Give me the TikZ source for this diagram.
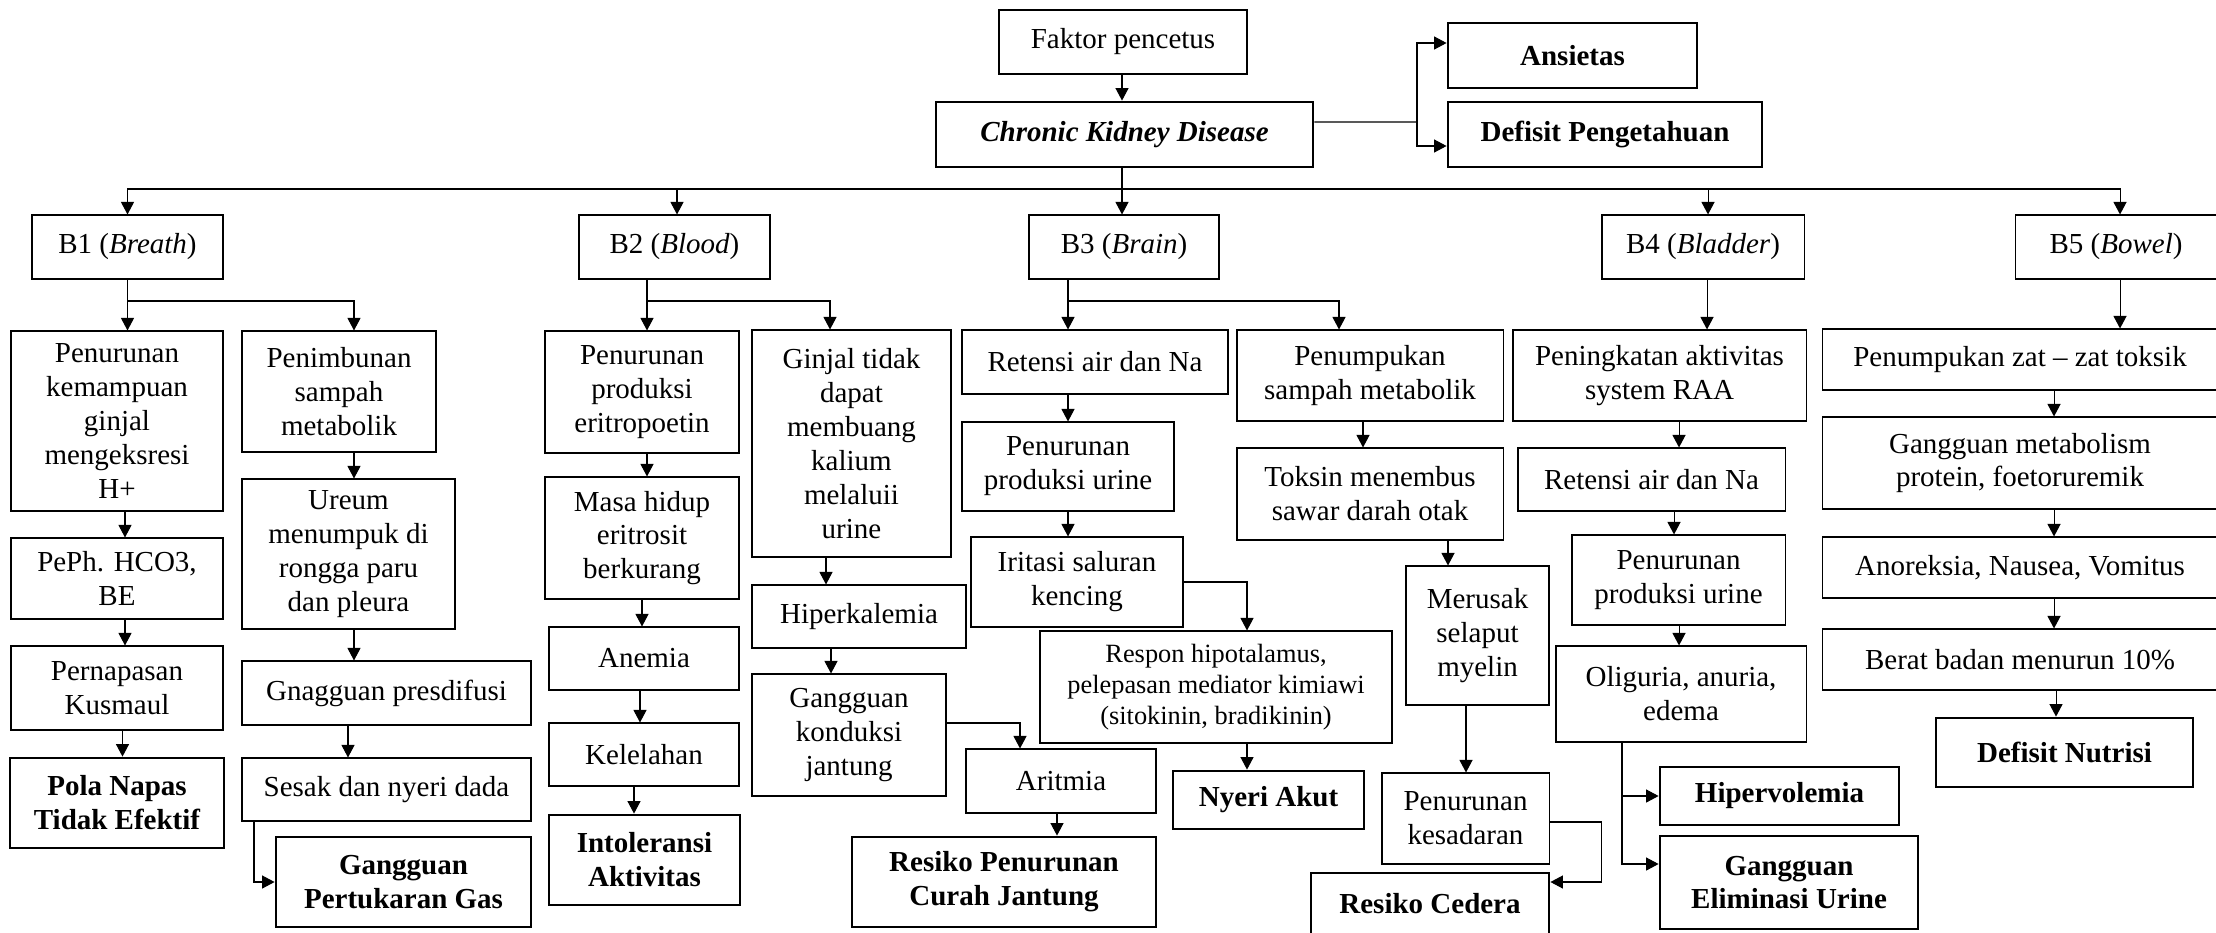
\documentclass[tikz,border=0pt]{standalone}
\usepackage{fontspec}
\setmainfont{Liberation Serif}
\usetikzlibrary{arrows.meta}
\newcommand{\nf}{\fontsize{16.5}{19.3}\selectfont}
\newcommand{\smf}{\fontsize{15}{17.6}\selectfont}
\tikzset{box/.style={draw,line width=0.6pt,align=center,inner sep=2pt,font=\nf},dx/.style={box,line width=1.6pt,font=\nf\bfseries},wh/.style 2 args={minimum width=#1mm,minimum height=#2mm},arr/.style={-{Triangle[length=2.5mm,width=2.6mm]},line width=0.6pt},ln/.style={line width=0.6pt}}

\begin{document}
\begin{tikzpicture}[x=0.2mm,y=-0.2mm]
\useasboundingbox (0,0) rectangle (2216,932);
\clip (0,0) rectangle (2216,932);
% top
\node[box,wh={49.6}{12.8}] (faktor) at (1123,42) {Faktor pencetus};
\node[dx,wh={75.4}{13}] (ckd) at (1124.5,134.5) {\itshape Chronic Kidney Disease};
\node[dx,wh={49.8}{13}] (ansietas) at (1572.5,55.5) {Ansietas};
\node[dx,wh={62.8}{13}] (defisitp) at (1605,134.5) {Defisit Pengetahuan};
% B1 .. B5
\node[box,wh={38.2}{12.8}] (bone) at (127.5,247) {B1 (\textit{Breath})};
\node[box,wh={38.2}{12.8}] (btwo) at (674.5,247) {B2 (\textit{Blood})};
\node[box,wh={38}{12.8}] (bthree) at (1124,247) {B3 (\textit{Brain})};
\node[box,wh={40.4}{12.8}] (bfour) at (1703,247) {B4 (\textit{Bladder})};
\node[box,wh={40.4}{12.8}] (bfive) at (2116,247) {B5 (\textit{Bowel})};
% breath
\node[box,wh={42.4}{36}] (bonea) at (117,421) {Penurunan\\kemampuan\\ginjal\\mengeksresi\\H+};
\node[box,wh={42.4}{16.2}] (boneb) at (117,578.5) {PePh. HCO3,\\BE};
\node[box,wh={42.4}{16.8}] (bonec) at (117,688) {Pernapasan\\Kusmaul};
\node[dx,wh={42.8}{18}] (boned) at (117,803) {Pola Napas\\Tidak Efektif};
\node[box,wh={38.8}{24.2}] (bonee) at (339,391.5) {Penimbunan\\sampah\\metabolik};
\node[box,wh={42.6}{30}] (bonef) at (348.5,554) {Ureum\\menumpuk di\\rongga paru\\dan pleura};
\node[box,wh={57.8}{12.8}] (boneg) at (386.5,693) {Gnagguan presdifusi};
\node[box,wh={57.8}{12.6}] (boneh) at (386.5,789.5) {Sesak dan nyeri dada};
\node[dx,wh={51}{18}] (bonei) at (403.5,882) {Gangguan\\Pertukaran Gas};
% blood
\node[box,wh={38.8}{24.4}] (btwoa) at (642,392) {Penurunan\\produksi\\eritropoetin};
\node[box,wh={38.8}{24.4}] (btwob) at (642,538) {Masa hidup\\eritrosit\\berkurang};
\node[box,wh={38}{12.6}] (btwoc) at (644,658.5) {Anemia};
\node[box,wh={38}{12.6}] (btwod) at (644,754.5) {Kelelahan};
\node[dx,wh={38.2}{18}] (btwoe) at (644.5,860) {Intoleransi\\Aktivitas};
\node[box,wh={39.8}{45.4}] (btwof) at (851.5,443.5) {Ginjal tidak\\dapat\\membuang\\kalium\\melaluii\\urine};
\node[box,wh={42.8}{12.6}] (btwog) at (859,616.5) {Hiperkalemia};
\node[box,wh={38.8}{24.4}] (btwoh) at (849,735) {Gangguan\\konduksi\\jantung};
% brain
\node[box,wh={53.2}{12.8}] (bthreea) at (1095,362) {Retensi air dan Na};
\node[box,wh={42.4}{17.8}] (bthreeb) at (1068,466.5) {Penurunan\\produksi urine};
\node[box,wh={42.4}{18}] (bthreec) at (1077,582) {Iritasi saluran\\kencing};
\node[box,wh={70.4}{22.4},font=\smf] (bthreed) at (1216,687) {Respon hipotalamus,\\pelepasan mediator kimiawi\\(sitokinin, bradikinin)};
\node[dx,wh={38.2}{11.6}] (bthreee) at (1268.5,800) {Nyeri Akut};
\node[box,wh={38}{12.8}] (bthreef) at (1061,781) {Aritmia};
\node[dx,wh={60.8}{18}] (bthreeg) at (1004,882) {Resiko Penurunan\\Curah Jantung};
\node[box,wh={53.2}{18.2}] (bthreeh) at (1370,375.5) {Penumpukan\\sampah metabolik};
\node[box,wh={53.2}{18.4}] (bthreei) at (1370,494) {Toksin menembus\\sawar darah otak};
\node[box,wh={28.6}{27.8}] (bthreej) at (1477.5,635.5) {Merusak\\selaput\\myelin};
\node[box,wh={33.4}{18.2}] (bthreek) at (1465.5,818.5) {Penurunan\\kesadaran};
\node[dx,wh={47.6}{12.4}] (bthreel) at (1430,904) {Resiko Cedera};
% bladder
\node[box,wh={58.6}{18.2}] (bfoura) at (1659.5,375.5) {Peningkatan aktivitas\\system RAA};
\node[box,wh={53.4}{12.6}] (bfourb) at (1651.5,479.5) {Retensi air dan Na};
\node[box,wh={42.6}{18}] (bfourc) at (1678.5,580) {Penurunan\\produksi urine};
\node[box,wh={50}{19.2}] (bfourd) at (1681,694) {Oliguria, anuria,\\edema};
\node[dx,wh={47.8}{11.6}] (bfoure) at (1779.5,796) {Hipervolemia};
\node[dx,wh={51.6}{18.6}] (bfourf) at (1789,882.5) {Gangguan\\Eliminasi Urine};
% bowel
\node[box,wh={79.2}{12.2}] (bfivea) at (2020,359.5) {Penumpukan zat -- zat toksik};
\node[box,wh={79.2}{18.4}] (bfiveb) at (2020,463) {Gangguan metabolism\\protein, foetoruremik};
\node[box,wh={79.2}{12.2}] (bfivec) at (2020,567.5) {Anoreksia, Nausea, Vomitus};
\node[box,wh={79.2}{12.2}] (bfived) at (2020,659.5) {Berat badan menurun 10\%};
\node[dx,wh={51.4}{13.8}] (bfivee) at (2064.5,752.5) {Defisit Nutrisi};
% connectors
\coordinate (fork) at (1417,122);
\draw[ln] ([yshift=2.5mm]ckd.east) -- (fork);
\draw[arr] (fork) |- ([yshift=2.5mm]ansietas.west);
\draw[arr] (fork) |- ([yshift=-2.3mm]defisitp.west);
\coordinate (bus) at (1122,189);
\draw[ln] (bus |- ckd.south) -- (bus);
\foreach \b/\x in {bone/127.5,btwo/677,bthree/1122,bfour/1708,bfive/2120}
  \draw[arr] (bus) -| (\x,0 |- \b.north);
\coordinate (onefork) at (127.5,301);
\draw[ln] (bone.south) -- (onefork);
\draw[arr] (onefork) -- (onefork |- bonea.north);
\draw[arr] (onefork) -| (354,0 |- bonee.north);
\coordinate (twofork) at (647,301);
\draw[ln] (twofork |- btwo.south) -- (twofork);
\draw[arr] (twofork) -- (twofork |- btwoa.north);
\draw[arr] (twofork) -| (830,0 |- btwof.north);
\coordinate (threefork) at (1068,301);
\draw[ln] (threefork |- bthree.south) -- (threefork);
\draw[arr] (threefork) -- (threefork |- bthreea.north);
\draw[arr] (threefork) -| (1339,0 |- bthreeh.north);
\foreach \a/\b/\x in {faktor/ckd/1122,bonea/boneb/125,boneb/bonec/125,bonec/boned/122.5,bonee/bonef/354,bonef/boneg/354,boneg/boneh/348,btwoa/btwob/647,btwob/btwoc/642,btwoc/btwod/640,btwod/btwoe/634,btwof/btwog/826,btwog/btwoh/831,bthreea/bthreeb/1068,bthreeb/bthreec/1068,bthreef/bthreeg/1057,bthreed/bthreee/1247,bthreeh/bthreei/1363,bthreei/bthreej/1448,bthreej/bthreek/1466,bfour/bfoura/1707,bfoura/bfourb/1679,bfourb/bfourc/1674,bfourc/bfourd/1679,bfive/bfivea/2120,bfivea/bfiveb/2054,bfiveb/bfivec/2054,bfivec/bfived/2054,bfived/bfivee/2056}
  \draw[arr] (\x,0 |- \a.south) -- (\x,0 |- \b.north);
\draw[arr] (254,0 |- boneh.south) |- (bonei.west);
\draw[arr] (btwoh.east |- 0,723) -| (1020,0 |- bthreef.north);
\draw[arr] (bthreec.east) -| (1247,0 |- bthreed.north);
\draw[arr] (bthreek.east |- 0,822) -| ++(52,60) -- (bthreel.east |- 0,882);
\draw[arr] (1622,0 |- bfourd.south) |- (bfoure.west);
\draw[arr] (1622,0 |- bfourd.south) |- (bfourf.west |- 0,864);
\end{tikzpicture}
\end{document}
